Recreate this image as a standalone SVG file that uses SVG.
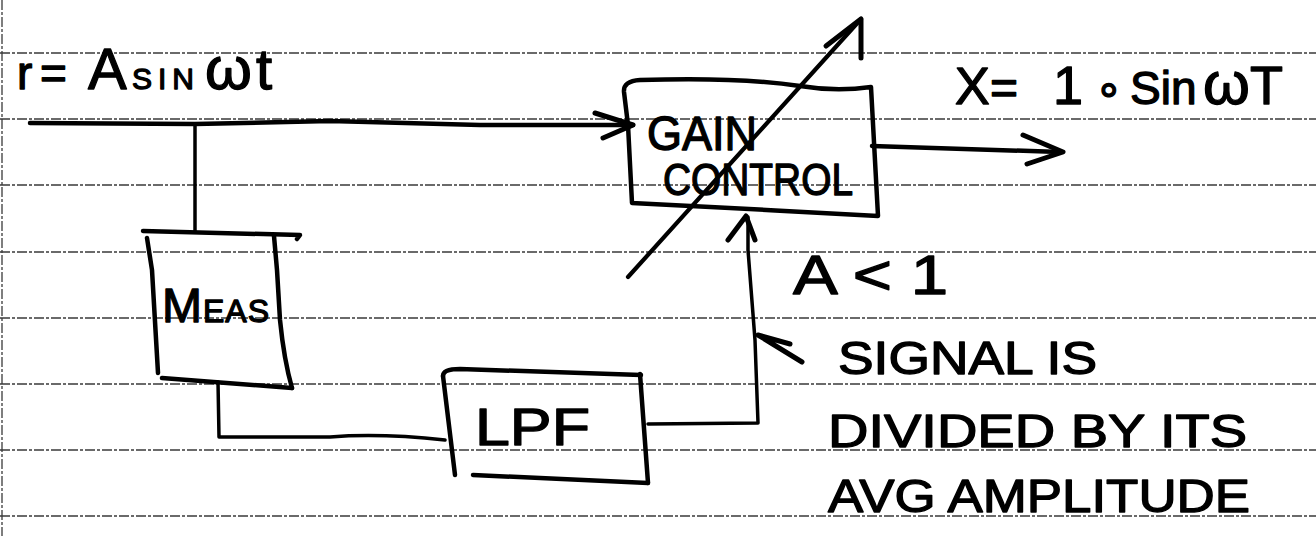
<svg xmlns="http://www.w3.org/2000/svg" width="1316" height="536" viewBox="0 0 1316 536">
<style>
.rule{stroke:#3a3a3a;stroke-width:1.3;stroke-dasharray:10 2 3 2;fill:none}
.box{fill:none;stroke:#000;stroke-width:4.5;stroke-linecap:round;stroke-linejoin:round}
.wire{fill:none;stroke:#000;stroke-width:3.5;stroke-linecap:round;stroke-linejoin:round}
.head{fill:none;stroke:#000;stroke-width:5;stroke-linecap:round;stroke-linejoin:round}
.hw{font-family:"Liberation Sans","DejaVu Sans",sans-serif;fill:#000;stroke:#000;stroke-width:1.3;stroke-linejoin:round}
</style>
<rect width="1316" height="536" fill="#fff"/>
<g id="paper">
<line class="rule" x1="2" y1="0" x2="2" y2="536"/>
<line class="rule" x1="0" y1="53" x2="1316" y2="53"/>
<line class="rule" x1="0" y1="119" x2="1316" y2="119"/>
<line class="rule" x1="0" y1="185" x2="1316" y2="185"/>
<line class="rule" x1="0" y1="252" x2="1316" y2="252"/>
<line class="rule" x1="0" y1="318" x2="1316" y2="318"/>
<line class="rule" x1="0" y1="384" x2="1316" y2="384"/>
<line class="rule" x1="0" y1="450" x2="1316" y2="450"/>
<line class="rule" x1="0" y1="516" x2="1316" y2="516"/>
</g>
<g id="input-label">
<text class="hw" y="89"><tspan x="17" font-size="46">r</tspan><tspan x="40" font-size="46">=</tspan><tspan x="88" font-size="58">A</tspan><tspan x="132" font-size="30" letter-spacing="6">SIN</tspan><tspan x="205" font-size="60">ω</tspan><tspan x="256" font-size="58">t</tspan></text>
</g>
<g id="output-label">
<text class="hw" y="104"><tspan x="955" font-size="52">X</tspan><tspan x="990" font-size="48">=</tspan><tspan x="1053" font-size="54">1</tspan><tspan x="1095" font-size="44">∘</tspan><tspan x="1130" font-size="46">Sin</tspan><tspan x="1203" font-size="60">ω</tspan><tspan x="1250" font-size="54">T</tspan></text>
</g>
<g id="gain-control">
<path class="box" d="M628,125 L624,92 Q623,81 640,80 C700,78 760,80 800,86 C830,91 850,90 871,87 L878,216 C800,212 700,206 632,203 Z"/>
<text class="hw" x="647" y="150" font-size="48" textLength="110" lengthAdjust="spacingAndGlyphs">GAIN</text>
<text class="hw" x="663" y="195" font-size="44" textLength="190" lengthAdjust="spacingAndGlyphs">CONTROL</text>
<path class="wire" style="stroke-width:4.2" d="M628,277 L861,19"/>
<polyline class="head" points="826,46 861,19 861,58"/>
</g>
<g id="meas">
<path class="box" d="M143,231 L300,235 L297,239"/>
<path class="box" d="M147,238 L152,270 L158,373"/>
<path class="box" d="M274,236 L277,270 L280,320 Q284,360 292,388"/>
<path class="box" d="M162,378 L292,388"/>
<text class="hw" y="322"><tspan x="162" font-size="48">M</tspan><tspan x="203" font-size="32" letter-spacing="1">EAS</tspan></text>
</g>
<g id="lpf">
<path class="box" d="M443,376 Q443,369 460,369 L641,375"/>
<path class="box" d="M443,376 L455,475"/>
<path class="box" d="M640,374 L648,483"/>
<path class="box" d="M473,475 L648,483"/>
<text class="hw" x="475" y="445" font-size="52" textLength="115" lengthAdjust="spacingAndGlyphs">LPF</text>
</g>
<g id="connectors">
<path class="wire" style="stroke-width:4.5" d="M30,123 L195,124 L330,121 L480,125 L633,125"/>
<polyline class="head" points="595,113 633,125 603,138"/>
<path class="wire" d="M195,124 L195,231"/>
<path class="wire" d="M218,382 L219,437 L330,437 Q380,433 445,440"/>
<path class="wire" d="M648,424 L758,423 L755,340 L748,250 L748,217"/>
<polyline class="head" points="728,240 746,216 755,240"/>
<path class="wire" style="stroke-width:4.5" d="M872,146 L1060,152"/>
<polyline class="head" points="1023,135 1063,152 1027,164"/>
<polyline class="head" points="790,344 758,335 802,362"/>
</g>
<g id="annotations">
<text class="hw" x="793" y="294" font-size="55" textLength="155" lengthAdjust="spacingAndGlyphs">A &lt; 1</text>
<text class="hw" x="838" y="374" font-size="46" textLength="259" lengthAdjust="spacingAndGlyphs">SIGNAL IS</text>
<text class="hw" x="828" y="447" font-size="46" textLength="419" lengthAdjust="spacingAndGlyphs">DIVIDED BY ITS</text>
<text class="hw" x="828" y="512" font-size="46" textLength="422" lengthAdjust="spacingAndGlyphs">AVG AMPLITUDE</text>
</g>
</svg>
